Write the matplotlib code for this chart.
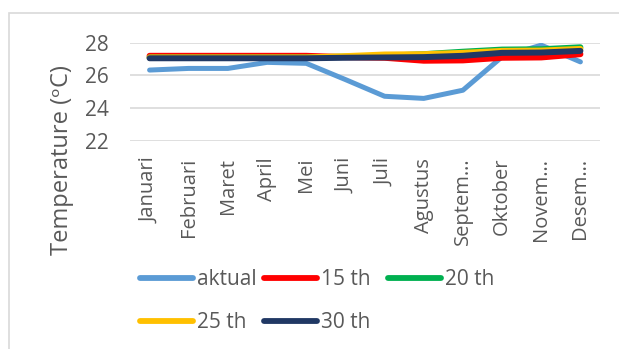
import matplotlib
matplotlib.use("Agg")
import matplotlib.pyplot as plt
from matplotlib.patches import Rectangle

plt.rcParams['font.family'] = ['Open Sans', 'DejaVu Sans']

months = ["Januari", "Februari", "Maret", "April", "Mei", "Juni", "Juli",
          "Agustus", "Septem…", "Oktober", "Novem…", "Desem…"]

aktual = [26.33, 26.43, 26.43, 26.8, 26.74, 25.75, 24.73, 24.6, 25.1, 27.14, 27.85, 26.83]
th15 = [27.2, 27.2, 27.2, 27.2, 27.2, 27.12, 27.08, 26.9, 26.92, 27.08, 27.1, 27.3]
th20 = [27.1, 27.1, 27.1, 27.1, 27.1, 27.15, 27.2, 27.3, 27.45, 27.58, 27.6, 27.72]
th25 = [27.1, 27.1, 27.1, 27.1, 27.1, 27.18, 27.28, 27.3, 27.38, 27.5, 27.52, 27.62]
th30 = [27.05, 27.05, 27.05, 27.05, 27.05, 27.08, 27.1, 27.12, 27.2, 27.38, 27.4, 27.5]

series = [("aktual", aktual, "#5B9BD5", 3.6),
          ("15 th", th15, "#FF0000", 4.3),
          ("20 th", th20, "#00B050", 4.3),
          ("25 th", th25, "#FFC000", 4.3),
          ("30 th", th30, "#203864", 4.3)]

text_color = "#595959"
grid_color = "#D9D9D9"

fig = plt.figure(figsize=(6.19, 3.49), dpi=100)
W, H = 619, 349

# outer chart border
fig.patches.append(Rectangle((8.5 / W, -0.1), 1.2, 1 - 13 / H + 0.1,
                             transform=fig.transFigure, fill=False,
                             edgecolor=grid_color, linewidth=1.2))

ax = fig.add_axes([130 / W, 1 - 141 / H, 470 / W, (141 - 42.7) / H])
x = list(range(len(months)))
lines = {}
for name, vals, col, lw in series:
    lines[name], = ax.plot(x, vals, color=col, linewidth=lw, label=name,
                           solid_capstyle='round', solid_joinstyle='round')

ax.set_xlim(-0.5, len(months) - 0.5)
ax.set_ylim(22, 28)
ax.set_yticks([22, 24, 26, 28])
ax.yaxis.grid(True, color=grid_color, linewidth=1.2)
ax.set_axisbelow(True)
for s in ax.spines.values():
    s.set_visible(False)
ax.tick_params(axis='both', length=0, colors=text_color)
ax.tick_params(axis='y', labelsize=15, pad=15)
ax.set_xticks(x)
ax.set_xticklabels(months, rotation=90, fontsize=14.5, color=text_color,
                   va='top', ha='center')
ax.tick_params(axis='x', pad=12)

fig.text(62 / W, 1 - 160 / H, "Temperature (ᵒC)", rotation=90, fontsize=17,
         color=text_color, ha='center', va='center')

# legend laid out as three equal-width columns, two rows
columns = [["aktual", "25 th"], ["15 th", "30 th"], ["20 th"]]
col_x = [140, 264, 388]
for names, cx in zip(columns, col_x):
    leg = fig.legend([lines[n] for n in names], names,
                     loc='upper left', bbox_to_anchor=(cx / W, 1 - 269 / H),
                     ncol=1, frameon=False, fontsize=15, handlelength=2.55,
                     handletextpad=0.2, labelspacing=1.05,
                     labelcolor=text_color, borderaxespad=0, borderpad=0)
    for h in leg.get_lines():
        h.set_linewidth(4.2)
        h.set_solid_capstyle('round')

fig.savefig("out.png", dpi=100)
